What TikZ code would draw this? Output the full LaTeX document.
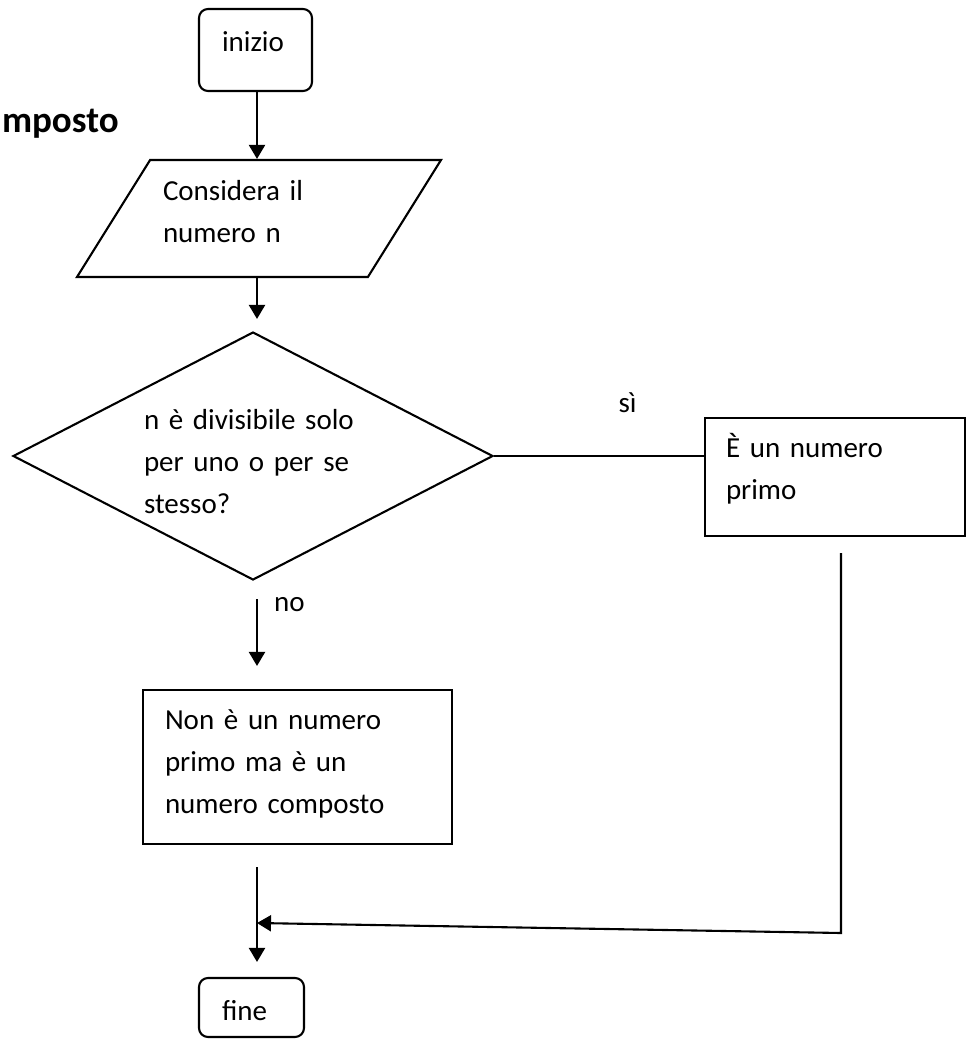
\documentclass[tikz,border=0pt]{standalone}
\usepackage{fontspec}
\setmainfont{Carlito}
\usetikzlibrary{shapes.geometric,arrows.meta,calc}

\begin{document}
\begin{tikzpicture}[x=1pt,y=-1pt,line width=2.1pt,
				every node/.style={font=\fontsize{29}{42}\selectfont,inner sep=0pt,align=left},
				terminale/.style={draw,rounded corners=9pt},
				blocco/.style={draw,rectangle},
				dato/.style={draw,trapezium,trapezium left angle=58,trapezium right angle=122,
					trapezium stretches body,text width=100pt,text height=58.5pt,text depth=58.5pt},
				decisione/.style={draw,diamond},
				freccia/.style={-{Triangle[width=16pt,length=14pt]}}]
\useasboundingbox (0,0) rectangle (970,1039);
\coordinate (asse) at (257,0);

\node[terminale,minimum width=113pt,minimum height=82pt,
	label={[text width=67pt,yshift=8pt]center:inizio}] (inizio) at (255.5,50) {};
\node[font=\bfseries\fontsize{37}{44}\selectfont,anchor=base west] (titolo) at (1,132) {mposto};
\node[dato,minimum width=364pt,minimum height=117pt,
	label={[text width=192pt,yshift=7pt]center:{Considera il\\numero n}}] (dato) at (259,218.5) {};
\node[decisione,minimum width=480pt,minimum height=248pt,
	label={[text width=218pt,yshift=-6pt]center:{n è divisibile solo\\per uno o per se\\stesso?}}] (domanda) at (253,456) {};
\node[blocco,minimum width=260pt,minimum height=118pt,
	label={[text width=218pt,yshift=8pt]center:{È un numero\\primo}}] (primo) at (835,477) {};
\node[blocco,minimum width=309pt,minimum height=154pt,
	label={[text width=265pt,yshift=3pt]center:{Non è un numero\\primo ma è un\\numero composto}}] (composto) at (297.5,767) {};
\node[terminale,minimum width=105pt,minimum height=59pt,
	label={[text width=59pt,yshift=-3pt]center:fine}] (fine) at (251.5,1007.5) {};
\node (si) at (627.5,403) {sì};
\node (no) at (289.5,605) {no};

\coordinate (angolo) at (841,933);
\coordinate (innesto) at (257,923);

\draw[freccia] (inizio.south -| asse) -- (dato.north -| asse);
\draw[freccia] (dato.south -| asse) -- ($(domanda.north -| asse)+(0,-12)$);
\draw (domanda.east) -- (domanda.east -| primo.west);
\draw[freccia] ($(domanda.south -| asse)+(0,18)$) -- ($(composto.north -| asse)+(0,-23)$);
\draw[freccia] ($(composto.south -| asse)+(0,22)$) -- ($(fine.north -| asse)+(0,-15)$);
\draw[freccia] ($(primo.south)+(6,16)$) -- (angolo) -- (innesto);
\end{tikzpicture}
\end{document}
